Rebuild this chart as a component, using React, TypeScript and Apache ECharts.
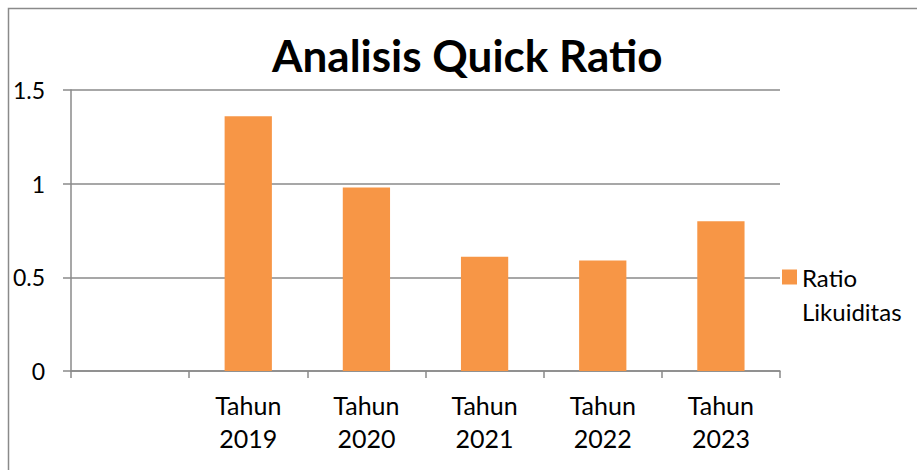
import React, { useEffect, useRef } from "react";
import * as echarts from "echarts";

const categories = ["", "Tahun\n2019", "Tahun\n2020", "Tahun\n2021", "Tahun\n2022", "Tahun\n2023"];
const ratioValues = [null, 1.36, 0.98, 0.61, 0.59, 0.8];
const seriesName = "Ratio Likuiditas";
const titleText = "Analisis Quick Ratio";

const FONT = "Lato, 'Open Sans', sans-serif";
const GRAY = "#8a8a8a";

export default function App() {
  const ref = useRef<HTMLDivElement>(null);
  useEffect(() => {
    if (!ref.current) return;
    const chart = echarts.init(ref.current, undefined, { renderer: "svg" });
    chart.setOption({
      animation: false,
      backgroundColor: "#ffffff",
      textStyle: { fontFamily: FONT },
      title: {
        text: titleText,
        left: 272,
        top: 33,
        padding: 0,
        textStyle: { fontFamily: FONT, fontSize: 44, fontWeight: "bold", color: "#000" },
      },
      graphic: [
        {
          type: "rect",
          shape: { x: 8.5, y: 8.5, width: 1000, height: 1000 },
          style: { fill: "none", stroke: GRAY, lineWidth: 1.5 },
          silent: true,
        },
      ],
      grid: { left: 71, right: 137, top: 90, bottom: 99, containLabel: false },
      legend: {
        data: [seriesName],
        orient: "vertical",
        left: 782,
        top: 226,
        padding: 0,
        icon: "rect",
        itemWidth: 15,
        itemHeight: 15,
        formatter: (n: string) => "\u00a0\n" + n.replace(" ", "\n"),
        textStyle: {
          fontFamily: FONT,
          fontSize: 24,
          color: "#000",
          lineHeight: 34,
        },
      },
      xAxis: {
        type: "category",
        data: categories,
        axisLine: { show: true, lineStyle: { color: GRAY, width: 1.5 } },
        axisTick: { show: true, length: 7, alignWithLabel: false, lineStyle: { color: GRAY, width: 1.5 } },
        axisLabel: { color: "#000", fontSize: 25, lineHeight: 33, margin: 17, fontFamily: FONT },
        splitLine: { show: false },
      },
      yAxis: {
        type: "value",
        min: 0,
        max: 1.5,
        interval: 0.5,
        axisLine: { show: true, lineStyle: { color: GRAY, width: 1.5 } },
        axisTick: { show: true, length: 8, lineStyle: { color: GRAY, width: 1.5 } },
        axisLabel: { color: "#000", fontSize: 23, margin: 26, fontFamily: FONT },
        splitLine: { show: true, lineStyle: { color: GRAY, width: 1.5 } },
      },
      series: [
        {
          name: seriesName,
          type: "bar",
          data: ratioValues,
          barWidth: "40%",
          itemStyle: { color: "#F79646" },
        },
      ],
    });
    return () => chart.dispose();
  }, []);
  return (
    <div style={{ position: "absolute", left: 0, top: 0, width: 917, height: 470 }}>
      <div ref={ref} style={{ width: 917, height: 470 }} />
    </div>
  );
}
